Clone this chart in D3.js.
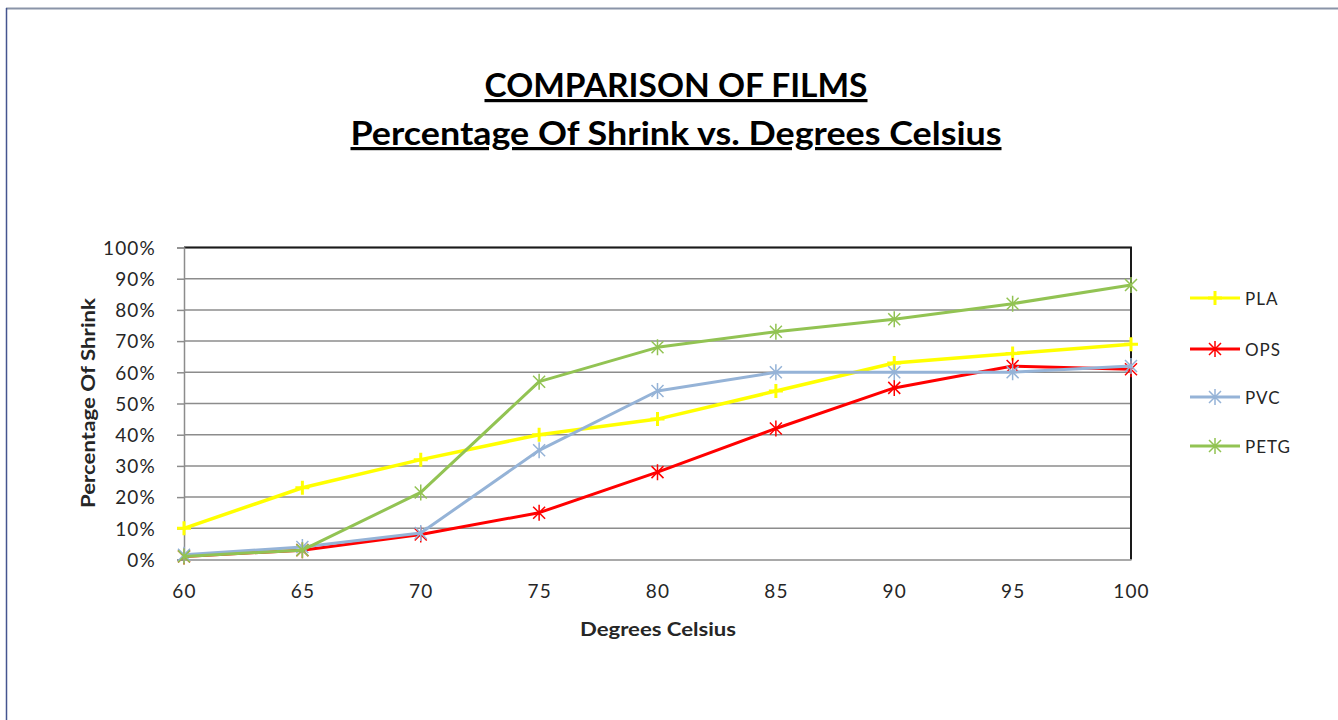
<!DOCTYPE html>
<html>
<head>
<meta charset="utf-8">
<script src="https://cdn.jsdelivr.net/npm/d3@7"></script>
<style>
  html, body { margin: 0; padding: 0; background: #fff; }
  svg { display: block; font-family: Lato, "Open Sans", sans-serif; }
</style>
</head>
<body>
<svg id="chart" width="1338" height="720"></svg>
<script>
// ---- data ----
const temps = [60, 65, 70, 75, 80, 85, 90, 95, 100];
const pla  = [10, 23, 32, 40, 45, 54, 63, 66, 69];
const ops  = [1, 3, 8, 15, 28, 42, 55, 62, 61];
const pvc  = [1.5, 4, 8.5, 35, 54, 60, 60, 60, 62];
const petg = [1, 3, 21.5, 57, 68, 73, 77, 82, 88];
const seriesNames = ["PLA", "OPS", "PVC", "PETG"];
const seriesColors = ["#ffff00", "#ff0000", "#95b3d7", "#92c353"];
const seriesMarkers = ["plus", "star", "star", "star"];
const yTicks = [0, 10, 20, 30, 40, 50, 60, 70, 80, 90, 100];
const titleLines = ["COMPARISON OF FILMS", "Percentage Of Shrink vs. Degrees Celsius"];
const xTitle = "Degrees Celsius";
const yTitle = "Percentage Of Shrink";

const seriesValues = [pla, ops, pvc, petg];

const svg = d3.select("#chart");

// frame
svg.append("line").attr("x1", 6).attr("x2", 1338).attr("y1", 8.5).attr("y2", 8.5)
  .attr("stroke", "#8a94a8").attr("stroke-width", 2);
svg.append("line").attr("x1", 6.5).attr("x2", 6.5).attr("y1", 8).attr("y2", 720)
  .attr("stroke", "#44558f").attr("stroke-width", 1.5);

const L = 184, R = 1131, T = 247.5, B = 559.5;
const x = d3.scaleLinear().domain([60, 100]).range([L, R]);
const y = d3.scaleLinear().domain([0, 100]).range([B, T]);

// titles
const tY = [97, 145];
const tW = [383, 651];
svg.append("g").selectAll("text").data(titleLines).join("text")
  .attr("x", 676).attr("y", (d, i) => tY[i])
  .attr("text-anchor", "middle")
  .attr("font-weight", "bold")
  .attr("font-size", 32)
  .attr("textLength", (d, i) => tW[i])
  .attr("lengthAdjust", "spacingAndGlyphs")
  .attr("fill", "#000")
  .attr("text-decoration", "underline")
  .text(d => d);

// gridlines
svg.append("g").selectAll("line").data(yTicks.filter(t => t > 0)).join("line")
  .attr("x1", L).attr("x2", R).attr("y1", d => y(d)).attr("y2", d => y(d))
  .attr("stroke", "#8c8c8c").attr("stroke-width", 1.5);

// plot border (top, right)
svg.append("path")
  .attr("d", `M${L},${T}H${R}V${B}`)
  .attr("fill", "none").attr("stroke", "#1a1a1a").attr("stroke-width", 2);

// y axis
const yAxis = svg.append("g").attr("transform", `translate(${L},0)`)
  .call(d3.axisLeft(y).tickValues(yTicks).tickFormat(d => d + "%").tickSize(7).tickPadding(21));
yAxis.select(".domain").attr("stroke", "#8c8c8c").attr("stroke-width", 1.5);
yAxis.selectAll(".tick line").attr("stroke", "#8c8c8c").attr("stroke-width", 1.5);
yAxis.selectAll(".tick text").attr("font-size", 19).attr("fill", "#262626")
  .attr("letter-spacing", 1.2).attr("dy", "0.36em")
  .attr("font-family", "Lato, sans-serif");

// x axis
const xAxis = svg.append("g").attr("transform", `translate(0,${B})`)
  .call(d3.axisBottom(x).tickValues(temps).tickFormat(d3.format("d")).tickSize(0).tickPadding(25));
xAxis.select(".domain").attr("stroke", "#8c8c8c").attr("stroke-width", 1.5);
xAxis.selectAll(".tick text").attr("font-size", 19).attr("fill", "#262626")
  .attr("letter-spacing", 1.2)
  .attr("font-family", "Lato, sans-serif");

// axis titles
svg.append("text").attr("x", 658).attr("y", 636).attr("text-anchor", "middle")
  .attr("font-weight", "bold").attr("font-size", 19).attr("fill", "#262626")
  .attr("textLength", 156).attr("lengthAdjust", "spacingAndGlyphs").text(xTitle);
svg.append("text").attr("transform", "translate(95,403) rotate(-90)").attr("text-anchor", "middle")
  .attr("font-weight", "bold").attr("font-size", 19).attr("fill", "#262626")
  .attr("textLength", 210).attr("lengthAdjust", "spacingAndGlyphs").text(yTitle);

// markers
function markerPath(type, r) {
  if (type === "plus") return `M${-r},0H${r}M0,${-r}V${r}`;
  const d = r * 0.75;
  return `M${-d},${-d}L${d},${d}M${-d},${d}L${d},${-d}M0,${-r}V${r}`;
}

const line = d3.line().x((d, i) => x(temps[i])).y(d => y(d));
const plot = svg.append("g");
seriesValues.forEach((vals, si) => {
  const g = plot.append("g");
  g.append("path").datum(vals).attr("d", line)
    .attr("fill", "none").attr("stroke", seriesColors[si])
    .attr("stroke-width", si === 0 ? 3.5 : 3).attr("stroke-linejoin", "round");
  g.selectAll("path.m").data(vals).join("path").attr("class", "m")
    .attr("transform", (d, i) => `translate(${x(temps[i])},${y(d)})`)
    .attr("d", markerPath(seriesMarkers[si], si === 0 ? 7 : 8))
    .attr("fill", "none").attr("stroke", seriesColors[si])
    .attr("stroke-width", si === 0 ? 3 : 1.5);
});

// legend
const legY = [298, 349, 397, 446];
const leg = svg.append("g");
seriesNames.forEach((name, i) => {
  const g = leg.append("g").attr("transform", `translate(0,${legY[i]})`);
  g.append("line").attr("x1", 1190).attr("x2", 1240).attr("y1", 0).attr("y2", 0)
    .attr("stroke", seriesColors[i]).attr("stroke-width", 3);
  g.append("path").attr("transform", "translate(1215,0)")
    .attr("d", markerPath(seriesMarkers[i], i === 0 ? 7 : 8))
    .attr("fill", "none").attr("stroke", seriesColors[i]).attr("stroke-width", i === 0 ? 3 : 1.5);
  g.append("text").attr("x", 1245).attr("y", 6.5).attr("font-size", 17)
    .attr("letter-spacing", 1).attr("fill", "#262626").text(name);
});
</script>
</body>
</html>
